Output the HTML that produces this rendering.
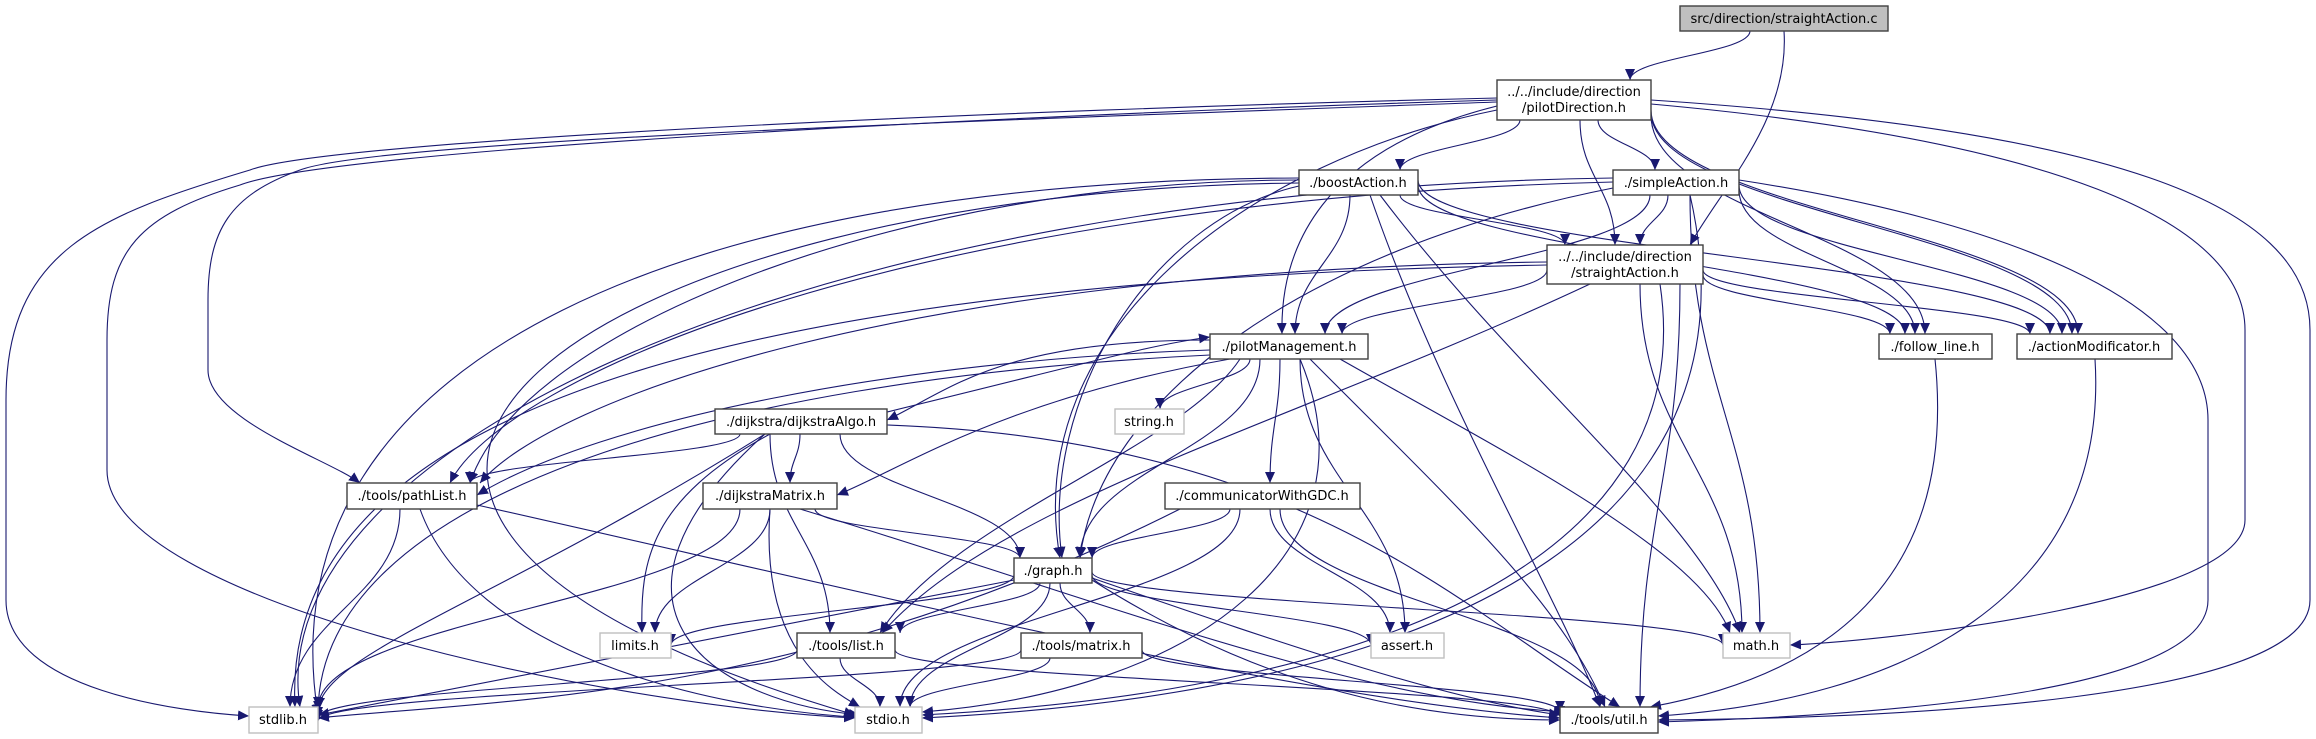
<!DOCTYPE html>
<html><head><meta charset="utf-8">
<style>
html,body{margin:0;padding:0;background:#fff;}
svg{display:block;}
text{font-family:"DejaVu Sans","Liberation Sans",sans-serif;font-size:13px;fill:#000;}
</style></head>
<body>
<svg id="g" width="2316" height="739" viewBox="0 0 2316 739" xmlns="http://www.w3.org/2000/svg">
<defs>
<marker id="a" markerUnits="userSpaceOnUse" markerWidth="12" markerHeight="12" refX="11" refY="5" orient="auto">
<path d="M0,0 L11,5 L0,10 Z" fill="#191970"/>
</marker>
</defs>
<g id="edges" fill="none" stroke="#191970" stroke-width="1.1"></g>
<g id="nodes" stroke-width="1.4">
<rect x="1680" y="6" width="208" height="25" fill="#bfbfbf" stroke="#404040"/>
<text x="1784" y="23" text-anchor="middle">src/direction/straightAction.c</text>
<rect x="1497" y="80" width="154" height="40" fill="#fff" stroke="#404040"/>
<text x="1574" y="96" text-anchor="middle">../../include/direction</text>
<text x="1574" y="112" text-anchor="middle">/pilotDirection.h</text>
<rect x="1299" y="170" width="119" height="25" fill="#fff" stroke="#404040"/>
<text x="1358" y="187" text-anchor="middle">./boostAction.h</text>
<rect x="1613" y="170" width="126" height="25" fill="#fff" stroke="#404040"/>
<text x="1676" y="187" text-anchor="middle">./simpleAction.h</text>
<rect x="1547" y="245" width="156" height="39" fill="#fff" stroke="#404040"/>
<text x="1625" y="261" text-anchor="middle">../../include/direction</text>
<text x="1625" y="277" text-anchor="middle">/straightAction.h</text>
<rect x="1210" y="334" width="158" height="25" fill="#fff" stroke="#404040"/>
<text x="1289" y="351" text-anchor="middle">./pilotManagement.h</text>
<rect x="1879" y="334" width="113" height="25" fill="#fff" stroke="#404040"/>
<text x="1935" y="351" text-anchor="middle">./follow_line.h</text>
<rect x="2017" y="334" width="155" height="25" fill="#fff" stroke="#404040"/>
<text x="2094" y="351" text-anchor="middle">./actionModificator.h</text>
<rect x="715" y="409" width="172" height="25" fill="#fff" stroke="#404040"/>
<text x="801" y="426" text-anchor="middle">./dijkstra/dijkstraAlgo.h</text>
<rect x="1115" y="409" width="69" height="25" fill="#fff" stroke="#bfbfbf"/>
<text x="1149" y="426" text-anchor="middle">string.h</text>
<rect x="347" y="483" width="130" height="26" fill="#fff" stroke="#404040"/>
<text x="412" y="500" text-anchor="middle">./tools/pathList.h</text>
<rect x="703" y="483" width="134" height="26" fill="#fff" stroke="#404040"/>
<text x="770" y="500" text-anchor="middle">./dijkstraMatrix.h</text>
<rect x="1165" y="483" width="195" height="26" fill="#fff" stroke="#404040"/>
<text x="1262" y="500" text-anchor="middle">./communicatorWithGDC.h</text>
<rect x="1014" y="558" width="78" height="25" fill="#fff" stroke="#404040"/>
<text x="1053" y="575" text-anchor="middle">./graph.h</text>
<rect x="600" y="633" width="71" height="25" fill="#fff" stroke="#bfbfbf"/>
<text x="635" y="650" text-anchor="middle">limits.h</text>
<rect x="797" y="633" width="98" height="25" fill="#fff" stroke="#404040"/>
<text x="846" y="650" text-anchor="middle">./tools/list.h</text>
<rect x="1021" y="633" width="121" height="25" fill="#fff" stroke="#404040"/>
<text x="1081" y="650" text-anchor="middle">./tools/matrix.h</text>
<rect x="1371" y="633" width="73" height="25" fill="#fff" stroke="#bfbfbf"/>
<text x="1407" y="650" text-anchor="middle">assert.h</text>
<rect x="1723" y="633" width="67" height="25" fill="#fff" stroke="#bfbfbf"/>
<text x="1756" y="650" text-anchor="middle">math.h</text>
<rect x="249" y="707" width="69" height="26" fill="#fff" stroke="#bfbfbf"/>
<text x="283" y="724" text-anchor="middle">stdlib.h</text>
<rect x="855" y="707" width="67" height="26" fill="#fff" stroke="#bfbfbf"/>
<text x="888" y="724" text-anchor="middle">stdio.h</text>
<rect x="1560" y="707" width="98" height="26" fill="#fff" stroke="#404040"/>
<text x="1609" y="724" text-anchor="middle">./tools/util.h</text>
</g>
</svg>
<script>
var E=[
[1750,31,1630,80],[1784,31,1690,245,1790,120,1720,190],
[1520,120,1400,170],[1598,120,1655,170],[1580,120,1615,245],
[1497,106,1282,334,1320,150,1280,250],[1497,110,1060,558,1250,160,1020,330],
[1651,115,1925,334],[1651,112,2072,334],[1651,110,2078,334],
[1400,195,1565,245],[1350,195,1295,334],[1299,186,1062,558,1150,220,1040,400],
[1299,180,470,483,900,180,520,330],[1370,195,1600,707,1440,400,1560,600],
[1380,195,1740,633,1520,380,1700,520],[1418,185,1905,334],[1418,180,2050,334],
[1299,178,318,715,700,180,260,350],[1299,183,855,715,600,190,120,500],
[1668,195,1640,245],[1650,195,1325,334],[1613,188,1080,558,1300,250,1100,400],
[1613,182,450,483,900,200,500,380],[1613,178,300,707,800,190,260,450],
[1739,190,1915,334],[1739,185,2062,334],[1690,195,1760,633],
[1690,195,922,718,1760,500,1500,690],
[1547,270,1342,334],[1703,275,1890,334],[1703,270,2030,334],
[1547,265,295,707,700,280,280,420],[1547,262,480,483,900,270,550,400],
[1590,284,882,633,1300,420,1000,500],[1640,284,1742,633],[1660,284,922,715,1700,550,1400,690],
[1680,284,1640,707],
[1210,340,887,420,1000,340,950,390],[887,412,1210,337,1100,360,1150,345],
[1250,359,1160,409],[1230,359,837,495,1000,400,900,470],[1280,359,1270,483],
[1260,359,1080,558],[1240,359,880,633,1180,450,950,520],[1210,350,477,495,900,360,600,420],
[1210,355,318,712,700,380,320,500],[1300,359,922,712,1380,550,1200,690],
[1300,359,1405,633],[1310,359,1605,707,1450,500,1560,600],[1340,359,1730,633,1500,450,1700,550],
[1935,359,1650,707,1960,600,1800,680],[2095,359,1658,716,2110,600,1900,700],
[740,434,470,483],[800,434,790,483],[840,434,1020,558],[770,434,642,633,650,500,640,560],
[770,434,830,633],[765,434,318,708,500,600,330,650],[765,434,860,715,580,600,700,700],
[887,425,1620,707,1300,440,1450,600],
[400,509,290,707],[420,509,870,718,470,650,700,710],[477,505,1560,718,900,600,1300,700],
[815,509,1020,558],[770,509,655,633],[740,509,318,708],[770,509,860,707,760,650,830,690],
[800,509,1565,712,1100,600,1350,700],
[1230,509,1092,558],[1180,509,318,718,800,700,500,700],[1240,509,900,707],
[1270,509,1390,633],[1280,509,1600,707],
[1014,575,671,645],[1040,583,900,633],[1060,583,1090,633],[1014,580,318,715,700,640,400,700],
[1050,583,910,707],[1092,575,1371,645],[1092,572,1723,645],[1092,578,1560,715,1300,650,1450,700],
[1092,580,1560,720,1250,680,1400,720],
[797,650,318,718],[840,658,880,707],[895,650,1560,717],
[1021,650,318,721],[1050,658,910,707],[1142,650,1560,712]
];
var C=[
"M1497,98 C1000,110 330,140 250,170 C100,215 6,250 6,400 L6,600 C6,690 180,712 249,716",
"M1497,100 C1000,115 330,150 240,185 C140,215 107,250 107,340 L107,470 C107,600 600,705 855,718",
"M1497,102 C1000,120 380,140 300,170 C230,195 208,230 208,300 L208,370 C208,420 330,460 360,483",
"M1651,100 C2100,130 2310,200 2310,330 L2310,600 C2310,700 1900,718 1658,720",
"M1651,104 C2050,140 2245,220 2245,330 L2245,520 C2245,600 1900,640 1790,645",
"M1739,180 C2000,220 2208,300 2208,420 L2208,600 C2208,690 1900,715 1658,722"
];
var g=document.getElementById("edges"),ns="http://www.w3.org/2000/svg";
function add(d){var p=document.createElementNS(ns,"path");p.setAttribute("d",d);p.setAttribute("marker-end","url(#a)");g.appendChild(p);}
E.forEach(function(e){var d;
if(e.length>4){d="M"+e[0]+","+e[1]+" C"+e[4]+","+e[5]+" "+e[6]+","+e[7]+" "+e[2]+","+e[3];}
else{var k=(e[3]-e[1])*0.45;d="M"+e[0]+","+e[1]+" C"+e[0]+","+(e[1]+k)+" "+e[2]+","+(e[3]-k)+" "+e[2]+","+e[3];}
add(d);});
C.forEach(add);
</script>
</body></html>
